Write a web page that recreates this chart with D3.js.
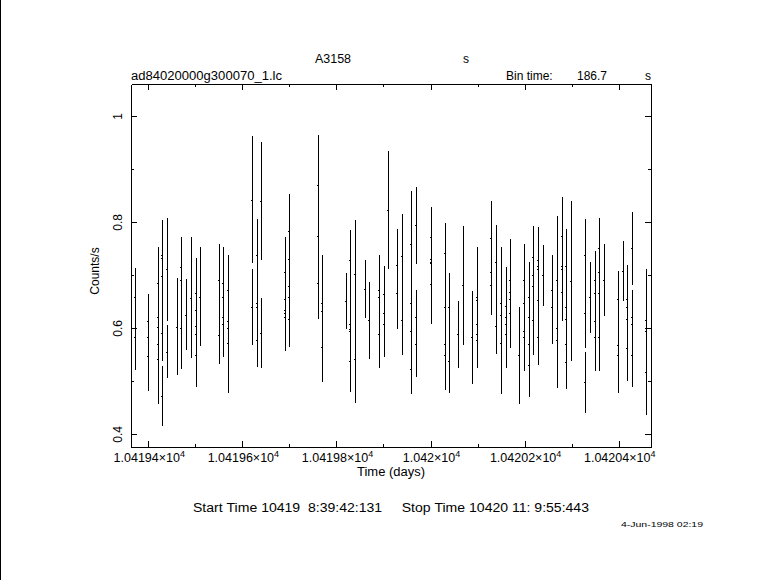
<!DOCTYPE html>
<html><head><meta charset="utf-8">
<script src="https://cdn.jsdelivr.net/npm/d3@7"></script>
<style>
body{margin:0;background:#fff}
svg{display:block}
text{font-family:"Liberation Sans",Arial,sans-serif;fill:#000}
</style>
</head><body>
<svg id="c" width="781" height="580"></svg>
<script>
// ---- data (time in days, count rate, 1-sigma error) ----
const timeDays = [
 10419.3633,10419.3633,
 10419.3724,10419.3724,
 10419.4000,10419.4000,10419.4000,
 10419.4213,10419.4213,10419.4213,10419.4213,10419.4213,
 10419.4298,10419.4298,10419.4298,10419.4298,10419.4298,
 10419.4404,10419.4404,
 10419.4617,
 10419.4702,10419.4702,10419.4702,
 10419.4808,
 10419.4914,
 10419.5020,10419.5020,10419.5020,10419.5020,10419.5020,
 10419.5106,
 10419.5503,10419.5503,
 10419.5595,10419.5595,10419.5595,10419.5595,
 10419.5701,10419.5701,10419.5701,10419.5701,
 10419.6211,10419.6211,
 10419.6317,10419.6317,10419.6317,10419.6317,
 10419.6402,10419.6402,
 10419.6913,10419.6913,10419.6913,10419.6913,10419.6913,
 10419.6998,10419.6998,10419.6998,10419.6998,10419.6998,
 10419.7614,10419.7614,10419.7614,
 10419.7699,10419.7699,10419.7699,
 10419.8209,
 10419.8294,10419.8294,10419.8294,10419.8294,10419.8294,
 10419.8401,10419.8401,
 10419.8613,
 10419.8698,
 10419.8911,10419.8911,10419.8911,
 10419.9017,10419.9017,10419.9017,
 10419.9102,
 10419.9294,10419.9294,
 10419.9400,10419.9400,
 10419.9591,10419.9591,10419.9591,10419.9591,
 10419.9698,10419.9698,10419.9698,
 10420.0004,10420.0004,10420.0004,10420.0004,10420.0004,
 10420.0314,10420.0314,10420.0314,10420.0314,
 10420.0399,10420.0399,
 10420.0591,
 10420.0697,
 10420.0888,
 10420.0995,10420.0995,10420.0995,10420.0995,10420.0995,
 10420.1292,10420.1292,10420.1292,
 10420.1398,10420.1398,
 10420.1505,10420.1505,10420.1505,
 10420.1611,10420.1611,10420.1611,10420.1611,
 10420.1696,10420.1696,10420.1696,10420.1696,
 10420.1887,
 10420.1994,10420.1994,10420.1994,10420.1994,
 10420.2100,10420.2100,10420.2100,10420.2100,
 10420.2185,10420.2185,10420.2185,10420.2185,
 10420.2291,10420.2291,10420.2291,10420.2291,10420.2291,
 10420.2398,
 10420.2589,10420.2589,
 10420.2696,10420.2696,10420.2696,
 10420.2802,10420.2802,10420.2802,10420.2802,
 10420.2887,10420.2887,10420.2887,10420.2887,10420.2887,
 10420.2993,
 10420.3291,10420.3291,10420.3291,
 10420.3397,
 10420.3491,10420.3491,10420.3491,10420.3491,
 10420.3589,10420.3589,10420.3589,10420.3589,
 10420.3695,
 10420.3992,10420.3992,10420.3992,
 10420.4099,
 10420.4184,10420.4184,10420.4184,10420.4184,
 10420.4290,10420.4290,10420.4290,10420.4290,
 10420.4587,10420.4587,10420.4587
];
const rate = [
 0.694,0.641,
 0.583,0.660,
 0.548,0.583,0.613,
 0.542,0.570,0.602,0.621,0.685,
 0.591,0.699,0.732,0.738,0.472,
 0.711,0.556,
 0.603,
 0.600,0.692,0.715,
 0.626,
 0.658,
 0.550,0.589,0.604,0.635,0.666,
 0.660,
 0.587,0.692,
 0.608,0.621,0.660,0.685,
 0.572,0.600,0.613,0.672,
 0.843,0.640,
 0.577,0.641,0.647,0.738,
 0.840,0.592,
 0.621,0.628,0.634,0.655,0.706,
 0.617,0.660,0.679,0.730,0.783,
 0.685,0.775,0.870,
 0.564,0.632,0.647,
 0.651,
 0.538,0.594,0.599,0.608,0.728,
 0.543,0.702,
 0.674,
 0.615,
 0.589,0.660,0.672,
 0.608,0.628,0.664,
 0.823,
 0.666,0.719,
 0.615,0.736,
 0.523,0.594,0.647,0.759,
 0.794,0.570,0.621,
 0.683,0.723,0.726,0.730,0.772,
 0.550,0.570,0.640,0.742,
 0.538,0.640,
 0.589,
 0.681,
 0.583,
 0.577,0.589,0.608,0.653,0.660,
 0.681,0.706,0.770,
 0.604,0.725,
 0.572,0.626,0.647,
 0.589,0.608,0.621,0.643,
 0.628,0.655,0.668,0.692,
 0.549,
 0.583,0.594,0.647,0.692,
 0.530,0.570,0.621,0.660,
 0.615,0.679,0.700,0.734,
 0.583,0.653,0.711,0.717,0.728,
 0.700,
 0.640,0.672,
 0.577,0.600,0.691,
 0.668,0.711,0.717,0.775,
 0.536,0.570,0.617,0.640,0.717,
 0.690,
 0.628,0.738,0.498,
 0.659,
 0.583,0.613,0.666,0.691,
 0.583,0.666,0.706,0.751,
 0.692,
 0.549,0.568,0.655,
 0.708,
 0.562,0.617,0.640,0.655,
 0.751,0.549,0.608,0.621,
 0.517,0.594,0.615
];
const rateErr = [
 0.050,0.050,
 0.062,0.053,
 0.067,0.055,0.052,
 0.085,0.070,0.070,0.070,0.069,
 0.052,0.065,0.065,0.067,0.056,
 0.097,0.050,
 0.091,
 0.077,0.060,0.057,
 0.067,
 0.114,
 0.060,0.060,0.060,0.060,0.066,
 0.093,
 0.054,0.067,
 0.063,0.065,0.065,0.069,
 0.095,0.070,0.070,0.066,
 0.120,0.072,
 0.050,0.060,0.060,0.068,
 0.111,0.066,
 0.063,0.063,0.063,0.063,0.066,
 0.052,0.060,0.060,0.060,0.070,
 0.067,0.080,0.095,
 0.065,0.080,0.091,
 0.053,
 0.059,0.065,0.065,0.070,0.057,
 0.083,0.103,
 0.055,
 0.073,
 0.063,0.065,0.067,
 0.063,0.060,0.054,
 0.112,
 0.067,0.069,
 0.065,0.080,
 0.047,0.060,0.070,0.101,
 0.072,0.061,0.052,
 0.074,0.060,0.060,0.060,0.057,
 0.067,0.060,0.070,0.057,
 0.061,0.065,
 0.063,
 0.112,
 0.088,
 0.052,0.060,0.060,0.070,0.093,
 0.055,0.060,0.070,
 0.052,0.069,
 0.096,0.090,0.106,
 0.063,0.065,0.065,0.072,
 0.065,0.070,0.070,0.076,
 0.091,
 0.063,0.065,0.065,0.067,
 0.059,0.060,0.060,0.065,
 0.065,0.060,0.060,0.059,
 0.052,0.060,0.060,0.060,0.063,
 0.057,
 0.069,0.067,
 0.089,0.090,0.120,
 0.054,0.060,0.060,0.072,
 0.050,0.060,0.060,0.060,0.071,
 0.151,
 0.065,0.069,0.057,
 0.067,
 0.063,0.060,0.060,0.054,
 0.063,0.060,0.060,0.057,
 0.068,
 0.072,0.060,0.053,
 0.056,
 0.061,0.060,0.060,0.065,
 0.069,0.059,0.060,0.052,
 0.081,0.080,0.096
];
const xMajorTicks = [10419.4,10419.6,10419.8,10420.0,10420.2,10420.4];
const xMinorTicks = [10419.5,10419.7,10419.9,10420.1,10420.3];
const xTickMantissa = ["1.04194","1.04196","1.04198","1.042","1.04202","1.04204"];
const xTickExponent = "4";
const yMajorTicks = [0.4,0.6,0.8,1.0];
const yMinorTicks = [0.5,0.7,0.9];
const yTickLabels = ["0.4","0.6","0.8","1"];
const xDomain = [10419.36322,10420.46868];
const yDomain = [0.37604,1.06095];

// ---- layout ----
const svg = d3.select("#c");
const L=131, R=651, T=84, B=447;
const x = d3.scaleLinear().domain(xDomain).range([L,R]);
const y = d3.scaleLinear().domain(yDomain).range([B,T]);

svg.append("rect").attr("width",781).attr("height",580).attr("fill","#fff");
svg.append("line").attr("x1",0.5).attr("x2",0.5).attr("y1",0).attr("y2",580)
  .attr("stroke","#000").attr("stroke-width",1);

// axes (ticks inward on all sides)
function ax(gen, tr, vals, size){
  const g = svg.append("g").attr("transform",tr)
    .call(gen.tickValues(vals).tickSize(size).tickSizeOuter(0).tickFormat(""));
  g.selectAll("path,line").attr("stroke","#000").attr("shape-rendering","crispEdges");
  return g;
}
ax(d3.axisBottom(x), `translate(0,${B})`, xMajorTicks, -6);
ax(d3.axisBottom(x), `translate(0,${B})`, xMinorTicks, -3);
ax(d3.axisTop(x), `translate(0,${T})`, xMajorTicks, -6);
ax(d3.axisTop(x), `translate(0,${T})`, xMinorTicks, -3);
ax(d3.axisLeft(y), `translate(${L},0)`, yMajorTicks, -6);
ax(d3.axisLeft(y), `translate(${L},0)`, yMinorTicks, -3);
ax(d3.axisRight(y), `translate(${R},0)`, yMajorTicks, -6);
ax(d3.axisRight(y), `translate(${R},0)`, yMinorTicks, -3);

// error bars
svg.append("clipPath").attr("id","pc").append("rect")
  .attr("x",L).attr("y",T).attr("width",R-L).attr("height",B-T);
const pts = timeDays.map((t,i)=>({t, r:rate[i], e:rateErr[i]}));
const eg = svg.append("g").attr("clip-path","url(#pc)")
  .attr("stroke","#000").attr("stroke-width",1).attr("shape-rendering","crispEdges");
eg.selectAll("line.v").data(pts).join("line").attr("class","v")
  .attr("x1",d=>Math.round(x(d.t))+0.5).attr("x2",d=>Math.round(x(d.t))+0.5)
  .attr("y1",d=>y(d.r-d.e)).attr("y2",d=>y(d.r+d.e));
eg.selectAll("line.h").data(pts).join("line").attr("class","h")
  .attr("x1",d=>Math.round(x(d.t))-1).attr("x2",d=>Math.round(x(d.t))+1)
  .attr("y1",d=>Math.round(y(d.r))+0.5).attr("y2",d=>Math.round(y(d.r))+0.5);

// tick labels
xMajorTicks.forEach((v,i)=>{
  const t = svg.append("text").attr("x",x(v)+1).attr("y",462)
    .attr("text-anchor","middle").attr("font-size",12.5);
  t.append("tspan").text(xTickMantissa[i]+"\u00d710");
  t.append("tspan").attr("dy",-5).attr("font-size",9).text(xTickExponent);
});
yMajorTicks.forEach((v,i)=>{
  svg.append("text").attr("transform",`translate(122,${y(v)}) rotate(-90)`)
    .attr("text-anchor","middle").attr("font-size",12).text(yTickLabels[i]);
});

// titles
const txt=(s,xx,yy,opt={})=>{
  const t=svg.append("text").attr("x",xx).attr("y",yy).attr("font-size",opt.size||12)
    .attr("text-anchor",opt.anchor||"start").text(s.replace(/ /g,"\u00a0"));
  if(opt.len) t.attr("textLength",opt.len).attr("lengthAdjust","spacingAndGlyphs");
  return t;
};
txt("A3158",315,63,{len:36});
txt("s",463,63);
txt("ad84020000g300070_1.lc",131,80,{len:151});
txt("Bin time:",506,80);
txt("186.7",577,80);
txt("s",645,80);
txt("Time (days)",357,476,{len:68});
txt("Start Time 10419  8:39:42:131     Stop Time 10420 11: 9:55:443",193,512,{len:396});
txt("4-Jun-1998 02:19",621,527,{size:8,len:82});
svg.append("text").attr("transform","translate(99,271) rotate(-90)")
  .attr("text-anchor","middle").attr("font-size",12).text("Counts/s");
</script>
</body></html>
